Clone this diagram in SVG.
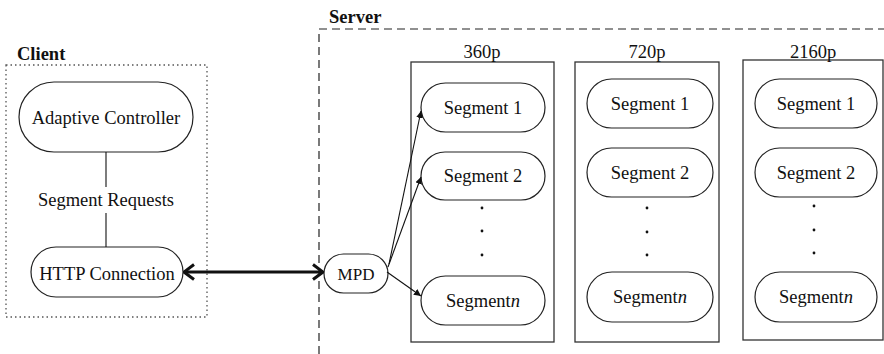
<svg xmlns="http://www.w3.org/2000/svg" width="884" height="354" viewBox="0 0 884 354" font-family="Liberation Serif, Times New Roman, Times, serif">
<defs>
<style>
text{font-size:18.5px;fill:#111;text-anchor:middle}
.title{font-weight:bold;text-anchor:start;font-size:18.5px}
.pill{fill:#fff;stroke:#222;stroke-width:1.2}
.box{fill:none;stroke:#333;stroke-width:1.3}
.dot{fill:#111}
.thin{stroke:#111;stroke-width:1.1;fill:none}
.thick{stroke:#111;stroke-width:3;fill:none}
</style>
<marker id="ah" viewBox="0 0 10 10" refX="10" refY="5" markerWidth="7" markerHeight="7" markerUnits="userSpaceOnUse" orient="auto"><path d="M0,0 L10,5 L0,10 z" fill="#111"/></marker>
<marker id="open" viewBox="0 0 12 18" refX="11" refY="9" markerWidth="12" markerHeight="18" markerUnits="userSpaceOnUse" orient="auto-start-reverse"><path d="M1,1.5 L11,9 L1,16.5" fill="none" stroke="#111" stroke-width="3"/></marker>
</defs>

<g id="client">
<rect x="6" y="65" width="201" height="252" fill="none" stroke="#555" stroke-width="1.3" stroke-dasharray="1.5,3"/>
<text class="title" x="17" y="60">Client</text>
</g>
<g id="server">
<path d="M319,354 V29 H884" fill="none" stroke="#222" stroke-width="1.2" stroke-dasharray="8,5"/>
<text class="title" x="329" y="23">Server</text>
</g>

<g id="adaptive-controller">
<rect class="pill" x="19" y="82" width="174" height="70" rx="35"/>
<text x="106" y="124">Adaptive Controller</text>
</g>
<g id="segment-requests"><text x="106" y="206">Segment Requests</text></g>
<g id="http-connection">
<rect class="pill" x="31" y="247" width="152" height="50" rx="25"/>
<text x="107" y="280">HTTP Connection</text>
</g>
<g id="mpd">
<rect class="pill" x="324" y="254" width="64" height="39" rx="19.5"/>
<text x="356" y="280" style="font-size:17px">MPD</text>
</g>

<g id="r360">
<rect class="box" x="411" y="62" width="143" height="280"/>
<text x="482" y="58">360p</text>
<rect class="pill" x="421" y="83" width="124" height="49" rx="24.5"/>
<text x="483" y="114">Segment 1</text>
<rect class="pill" x="421" y="152" width="124" height="48" rx="24"/>
<text x="483" y="182">Segment 2</text>
<circle class="dot" cx="482" cy="208" r="1.4"/><circle class="dot" cx="482" cy="231" r="1.4"/><circle class="dot" cx="482" cy="255" r="1.4"/>
<rect class="pill" x="421" y="276" width="124" height="49" rx="24.5"/>
<text x="483" y="307">Segment<tspan font-style="italic">n</tspan></text>
</g>

<g id="r720">
<rect class="box" x="575" y="62" width="144" height="280"/>
<text x="647" y="58">720p</text>
<rect class="pill" x="587" y="79" width="126" height="49" rx="24.5"/>
<text x="650" y="110">Segment 1</text>
<rect class="pill" x="587" y="148" width="126" height="49" rx="24.5"/>
<text x="650" y="179">Segment 2</text>
<circle class="dot" cx="647" cy="208" r="1.4"/><circle class="dot" cx="647" cy="232" r="1.4"/><circle class="dot" cx="647" cy="255" r="1.4"/>
<rect class="pill" x="587" y="272" width="126" height="50" rx="25"/>
<text x="650" y="303">Segment<tspan font-style="italic">n</tspan></text>
</g>

<g id="r2160">
<rect class="box" x="743" y="60" width="140" height="280"/>
<text x="813" y="58">2160p</text>
<rect class="pill" x="755" y="79" width="122" height="49" rx="24.5"/>
<text x="816" y="110">Segment 1</text>
<rect class="pill" x="755" y="148" width="122" height="49" rx="24.5"/>
<text x="816" y="179">Segment 2</text>
<circle class="dot" cx="814" cy="206" r="1.4"/><circle class="dot" cx="814" cy="230" r="1.4"/><circle class="dot" cx="814" cy="253" r="1.4"/>
<rect class="pill" x="755" y="272" width="122" height="50" rx="25"/>
<text x="816" y="303">Segment<tspan font-style="italic">n</tspan></text>
</g>

<g id="connectors">
<line class="thin" x1="106" y1="152" x2="106" y2="187"/>
<line class="thin" x1="106" y1="213" x2="106" y2="247"/>
<line class="thick" x1="184" y1="272" x2="323" y2="272" marker-start="url(#open)" marker-end="url(#open)"/>
<line class="thin" x1="389" y1="264" x2="421" y2="111" marker-end="url(#ah)"/>
<line class="thin" x1="388" y1="267" x2="421" y2="177" marker-end="url(#ah)"/>
<line class="thin" x1="387" y1="272" x2="421" y2="296" marker-end="url(#ah)"/>
</g>
</svg>
